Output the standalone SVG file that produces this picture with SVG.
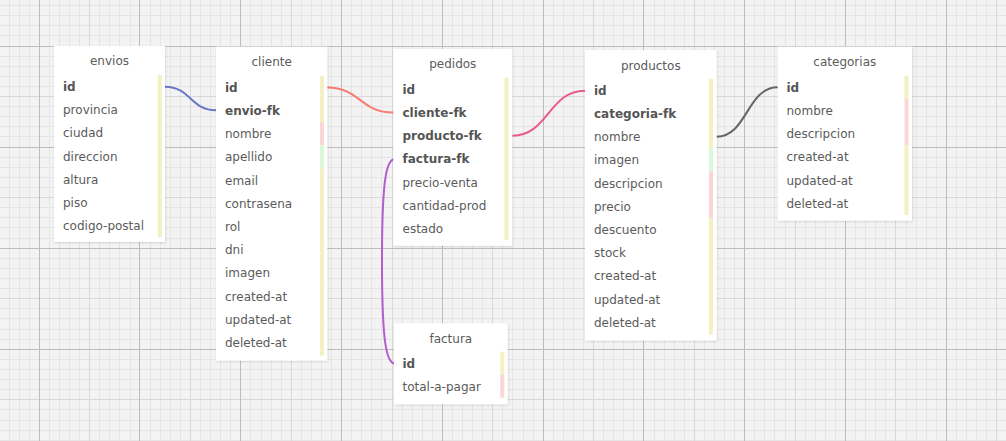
<svg xmlns="http://www.w3.org/2000/svg" width="1006" height="441" viewBox="0 0 1006 441">
<style>
.bg{fill:#f3f3f3}
.gmin{stroke:#e5e5e5;stroke-width:1;fill:none}
.gmed{stroke:#d9d9d9;stroke-width:1;fill:none}
.gmaj{stroke:#bdbdbd;stroke-width:1;fill:none}
.box{fill:#ffffff;filter:url(#sh)}
.t{font-family:"DejaVu Sans",Verdana,sans-serif;font-size:12px;fill:#5b5b5b}
.ttl{text-anchor:middle}
.b{font-weight:bold;fill:#555555}
.y{fill:#f3f0c4}
.p{fill:#fcd6d6}
.g{fill:#d9f9d9}
.e{fill:none;stroke-width:2;stroke-linecap:round}
</style>
<defs>
<filter id="sh" x="-10%" y="-10%" width="120%" height="120%">
<feDropShadow dx="0.5" dy="1" stdDeviation="1.2" flood-color="#000000" flood-opacity="0.14"/>
</filter>
</defs>
<rect class="bg" x="0" y="0" width="1006" height="441"/>
<g id="grid">
<path class="gmin" d="M9.5,0V441M19.5,0V441M29.5,0V441M49.5,0V441M59.5,0V441M69.5,0V441M79.5,0V441M99.5,0V441M109.5,0V441M119.5,0V441M130.5,0V441M150.5,0V441M160.5,0V441M170.5,0V441M180.5,0V441M200.5,0V441M210.5,0V441M220.5,0V441M230.5,0V441M250.5,0V441M261.5,0V441M271.5,0V441M281.5,0V441M301.5,0V441M311.5,0V441M321.5,0V441M331.5,0V441M351.5,0V441M361.5,0V441M371.5,0V441M381.5,0V441M402.5,0V441M412.5,0V441M422.5,0V441M432.5,0V441M452.5,0V441M462.5,0V441M472.5,0V441M482.5,0V441M502.5,0V441M512.5,0V441M523.5,0V441M533.5,0V441M553.5,0V441M563.5,0V441M573.5,0V441M583.5,0V441M603.5,0V441M613.5,0V441M623.5,0V441M633.5,0V441M654.5,0V441M664.5,0V441M674.5,0V441M684.5,0V441M704.5,0V441M714.5,0V441M724.5,0V441M734.5,0V441M754.5,0V441M764.5,0V441M774.5,0V441M785.5,0V441M805.5,0V441M815.5,0V441M825.5,0V441M835.5,0V441M855.5,0V441M865.5,0V441M875.5,0V441M885.5,0V441M906.5,0V441M916.5,0V441M926.5,0V441M936.5,0V441M956.5,0V441M966.5,0V441M976.5,0V441M986.5,0V441M0,5.5H1006M0,15.5H1006M0,25.5H1006M0,35.5H1006M0,56.5H1006M0,66.5H1006M0,76.5H1006M0,86.5H1006M0,106.5H1006M0,116.5H1006M0,126.5H1006M0,136.5H1006M0,157.5H1006M0,167.5H1006M0,177.5H1006M0,187.5H1006M0,207.5H1006M0,217.5H1006M0,227.5H1006M0,238.5H1006M0,258.5H1006M0,268.5H1006M0,278.5H1006M0,288.5H1006M0,308.5H1006M0,318.5H1006M0,329.5H1006M0,339.5H1006M0,359.5H1006M0,369.5H1006M0,379.5H1006M0,389.5H1006M0,409.5H1006M0,420.5H1006M0,430.5H1006M0,440.5H1006"/>
<path class="gmed" d="M89.5,0V441M190.5,0V441M291.5,0V441M392.5,0V441M492.5,0V441M593.5,0V441M694.5,0V441M795.5,0V441M895.5,0V441M996.5,0V441M0,96.5H1006M0,197.5H1006M0,298.5H1006M0,399.5H1006"/>
<path class="gmaj" d="M39.5,0V441M139.5,0V441M240.5,0V441M341.5,0V441M442.5,0V441M543.5,0V441M643.5,0V441M744.5,0V441M845.5,0V441M946.5,0V441M0,46.5H1006M0,147.5H1006M0,248.5H1006M0,349.5H1006"/>
</g>
<g id="connectors">
<path class="e" stroke="#6d77c9" d="M165,86.7 C190.5,86.7 190.5,110.3 216,110.3"/>
<path class="e" stroke="#f77b72" d="M327.3,87.5 C360,87.5 360,112.5 393.3,112.5"/>
<path class="e" stroke="#ea5b8a" d="M512.3,135.7 C548.6,135.7 548.6,90.7 585,90.7"/>
<path class="e" stroke="#666666" d="M716.7,136.7 C747,136.7 747,87.3 777.7,87.3"/>
<path class="e" stroke="#b45cd0" d="M393.3,159.5 C385,162 382,190 382,261 C382,332 385,360 393.5,363.3"/>
</g>
<g id="envios">
<rect class="box" x="54" y="46" width="111" height="196"/>
<rect class="y" x="157.7" y="75" width="4" height="162.4"/>
<text class="t ttl" x="109.5" y="65">envios</text>
<text class="t b" x="63" y="91">id</text>
<text class="t" x="63" y="114.2">provincia</text>
<text class="t" x="63" y="137.4">ciudad</text>
<text class="t" x="63" y="160.6">direccion</text>
<text class="t" x="63" y="183.8">altura</text>
<text class="t" x="63" y="207">piso</text>
<text class="t" x="63" y="230.2">codigo-postal</text>
</g>
<g id="cliente">
<rect class="box" x="216" y="46.7" width="111.3" height="314"/>
<rect class="y" x="320" y="75.7" width="4" height="46.4"/>
<rect class="p" x="320" y="122.1" width="4" height="23.2"/>
<rect class="g" x="320" y="145.3" width="4" height="23.2"/>
<rect class="y" x="320" y="168.5" width="4" height="187"/>
<text class="t ttl" x="271.7" y="66">cliente</text>
<text class="t b" x="225" y="91.7">id</text>
<text class="t b" x="225" y="114.9">envio-fk</text>
<text class="t" x="225" y="138.1">nombre</text>
<text class="t" x="225" y="161.3">apellido</text>
<text class="t" x="225" y="184.5">email</text>
<text class="t" x="225" y="207.7">contrasena</text>
<text class="t" x="225" y="230.9">rol</text>
<text class="t" x="225" y="254.1">dni</text>
<text class="t" x="225" y="277.3">imagen</text>
<text class="t" x="225" y="300.5">created-at</text>
<text class="t" x="225" y="323.7">updated-at</text>
<text class="t" x="225" y="346.9">deleted-at</text>
</g>
<g id="pedidos">
<rect class="box" x="393.3" y="49" width="119" height="196.7"/>
<rect class="y" x="504.5" y="77.7" width="4" height="162.4"/>
<text class="t ttl" x="452.8" y="68.3">pedidos</text>
<text class="t b" x="402.5" y="93.7">id</text>
<text class="t b" x="402.5" y="116.9">cliente-fk</text>
<text class="t b" x="402.5" y="140.1">producto-fk</text>
<text class="t b" x="402.5" y="163.3">factura-fk</text>
<text class="t" x="402.5" y="186.5">precio-venta</text>
<text class="t" x="402.5" y="209.7">cantidad-prod</text>
<text class="t" x="402.5" y="232.9">estado</text>
</g>
<g id="productos">
<rect class="box" x="585" y="50" width="131.7" height="290.5"/>
<rect class="y" x="709" y="78.7" width="4" height="69.6"/>
<rect class="g" x="709" y="148.3" width="4" height="23.2"/>
<rect class="p" x="709" y="171.5" width="4" height="46.4"/>
<rect class="y" x="709" y="217.9" width="4" height="116.8"/>
<text class="t ttl" x="650.8" y="69.5">productos</text>
<text class="t b" x="594" y="94.7">id</text>
<text class="t b" x="594" y="117.9">categoria-fk</text>
<text class="t" x="594" y="141.1">nombre</text>
<text class="t" x="594" y="164.3">imagen</text>
<text class="t" x="594" y="187.5">descripcion</text>
<text class="t" x="594" y="210.7">precio</text>
<text class="t" x="594" y="233.9">descuento</text>
<text class="t" x="594" y="257.1">stock</text>
<text class="t" x="594" y="280.3">created-at</text>
<text class="t" x="594" y="303.5">updated-at</text>
<text class="t" x="594" y="326.7">deleted-at</text>
</g>
<g id="categorias">
<rect class="box" x="777.7" y="46.7" width="134.3" height="174"/>
<rect class="y" x="904.5" y="75.7" width="4" height="23.2"/>
<rect class="p" x="904.5" y="98.9" width="4" height="46.4"/>
<rect class="y" x="904.5" y="145.3" width="4" height="69.6"/>
<text class="t ttl" x="844.8" y="66">categorias</text>
<text class="t b" x="786.5" y="91.7">id</text>
<text class="t" x="786.5" y="114.9">nombre</text>
<text class="t" x="786.5" y="138.1">descripcion</text>
<text class="t" x="786.5" y="161.3">created-at</text>
<text class="t" x="786.5" y="184.5">updated-at</text>
<text class="t" x="786.5" y="207.7">deleted-at</text>
</g>
<g id="factura">
<rect class="box" x="394" y="323.3" width="113.7" height="81"/>
<rect class="y" x="500.3" y="351.7" width="4" height="23"/>
<rect class="p" x="500.3" y="374.7" width="4" height="23"/>
<text class="t ttl" x="450.8" y="342.5">factura</text>
<text class="t b" x="402.5" y="367.7">id</text>
<text class="t" x="402.5" y="390.9">total-a-pagar</text>
</g>
</svg>
